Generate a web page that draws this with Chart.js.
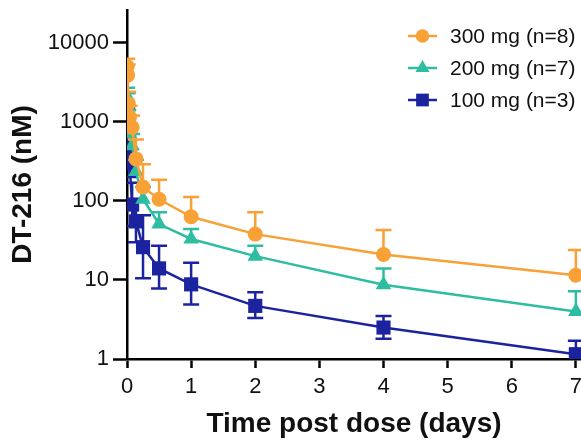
<!DOCTYPE html>
<html><head><meta charset="utf-8">
<script src="https://cdn.jsdelivr.net/npm/chart.js@4.4.1/dist/chart.umd.min.js"></script>
<style>
html,body{margin:0;padding:0;background:#fff;overflow:hidden;}
#wrap{width:581px;height:444px;overflow:hidden;position:relative;}
canvas{display:block;}
</style></head>
<body><div id="wrap"><canvas id="c" width="591" height="444"></canvas></div>
<script>
const times = [0.003, 0.01, 0.02, 0.04, 0.08, 0.14, 0.25, 0.5, 1, 2, 4, 7];
const mean300 = [5000, 3900, 1700, 1150, 850, 340, 150, 105, 63, 38, 21, 11.5];
const up300   = [6300, 5300, 2400, 1600, 1200, 600, 290, 185, 112, 72, 43, 24];
const mean200 = [2100, 1700, 1000, 700, 500, 235, 105, 51, 33, 20, 8.7, 4.0];
const up200   = [2700, 2300, 1400, 950, 700, 330, 150, 72, 44, 27, 14, 7.2];
const mean100 = [1100, 800, 450, 300, 90, 55, 26, 14, 8.8, 4.7, 2.5, 1.15];
const up100   = [1500, 1100, 650, 450, 170, 100, 66, 27, 16.5, 7, 3.5, 1.7];
const lo100   = [800, 550, 300, 200, 48, 30, 10.5, 7.8, 4.9, 3.3, 1.8, 0.8];
const seriesLabels = ['300 mg (n=8)', '200 mg (n=7)', '100 mg (n=3)'];
const xTicks = [0, 1, 2, 3, 4, 5, 6, 7];
const yTicks = [1, 10, 100, 1000, 10000];

const COLORS = ['#F7A136', '#2EBDA0', '#1C239E'];
const FONT = 'Liberation Sans, Arial, sans-serif';

function pts(ys){ return ys.map((y,i)=>({x:times[i], y:y})); }

const datasets = [
  {label: seriesLabels[0], data: pts(mean300), errUp: up300, errLo: null,
   borderColor: COLORS[0], backgroundColor: COLORS[0], pointStyle: 'circle', pointRadius: 7.5},
  {label: seriesLabels[1], data: pts(mean200), errUp: up200, errLo: null,
   borderColor: COLORS[1], backgroundColor: COLORS[1], pointStyle: 'triangle', pointRadius: 9},
  {label: seriesLabels[2], data: pts(mean100), errUp: up100, errLo: lo100,
   borderColor: COLORS[2], backgroundColor: COLORS[2], pointStyle: 'rect', pointRadius: 10}
].map(d => Object.assign(d, {borderWidth: 2.5, pointBorderWidth: 0, pointHoverRadius: d.pointRadius, tension: 0}));

const errorBars = {
  id: 'errorBars',
  beforeDatasetDraw(chart, args) {
    const ds = chart.data.datasets[args.index];
    const xs = chart.scales.x, ys = chart.scales.y, ca = chart.chartArea;
    const ctx = chart.ctx;
    ctx.save();
    ctx.beginPath();
    ctx.rect(ca.left, ca.top - 20, ca.right - ca.left + 20, ca.bottom - ca.top + 20);
    ctx.clip();
    ctx.strokeStyle = ds.borderColor;
    ctx.lineWidth = 2.5;
    const cap = 8;
    ds.data.forEach((p, i) => {
      const x = xs.getPixelForValue(p.x);
      const y = ys.getPixelForValue(p.y);
      const ends = [];
      if (ds.errUp) ends.push(ys.getPixelForValue(ds.errUp[i]));
      if (ds.errLo) ends.push(ys.getPixelForValue(ds.errLo[i]));
      ends.forEach(ye => {
        ctx.beginPath();
        ctx.moveTo(x, y); ctx.lineTo(x, ye);
        ctx.moveTo(x - cap, ye); ctx.lineTo(x + cap, ye);
        ctx.stroke();
      });
    });
    ctx.restore();
  }
};

const legendBox = {
  id: 'legendBox',
  afterDraw(chart) {
    const ctx = chart.ctx;
    const rows = [36, 68, 100];
    chart.data.datasets.forEach((ds, i) => {
      const y = rows[i];
      ctx.save();
      ctx.strokeStyle = ds.borderColor;
      ctx.fillStyle = ds.backgroundColor;
      ctx.lineWidth = 2.5;
      ctx.beginPath(); ctx.moveTo(408, y); ctx.lineTo(437, y); ctx.stroke();
      Chart.helpers.drawPoint(ctx, {pointStyle: ds.pointStyle, radius: ds.pointRadius * 0.9, borderWidth: 0, rotation: 0}, 422.5, y);
      ctx.fillStyle = '#111';
      ctx.font = '21px ' + FONT;
      ctx.textBaseline = 'middle';
      ctx.textAlign = 'left';
      ctx.fillText(ds.label, 450, y + 1);
      ctx.restore();
    });
  }
};

new Chart(document.getElementById('c'), {
  type: 'line',
  data: {datasets},
  plugins: [errorBars, legendBox],
  options: {
    responsive: false,
    animation: false,
    devicePixelRatio: 1,
    layout: {padding: {top: 8, right: 0, left: 0, bottom: 0}},
    plugins: {legend: {display: false}, tooltip: {enabled: false}},
    scales: {
      x: {
        type: 'linear', min: 0, max: 7.08,
        afterBuildTicks: s => { s.ticks = xTicks.map(v => ({value: v})); },
        afterFit: s => { s.height = 85; },
        grid: {drawOnChartArea: false, drawTicks: true, tickLength: 9, tickWidth: 2.5, tickColor: '#000'},
        border: {display: true, color: '#000', width: 2.5},
        ticks: {color: '#111', font: {family: FONT, size: 22}, padding: 6, maxRotation: 0, autoSkip: false,
                callback: v => String(v)},
        title: {display: true, text: 'Time post dose (days)', color: '#111',
                font: {family: FONT, size: 28, weight: 'bold'}, padding: {top: 0, bottom: 3}}
      },
      y: {
        type: 'logarithmic', min: 1, max: 26000,
        afterBuildTicks: s => { s.ticks = yTicks.map(v => ({value: v})); },
        afterFit: s => { s.width = 127; s.paddingTop = 0; s.paddingBottom = 0; },
        grid: {drawOnChartArea: false, drawTicks: true, tickLength: 14, tickWidth: 2.5, tickColor: '#000'},
        border: {display: true, color: '#000', width: 2.5},
        ticks: {color: '#111', font: {family: FONT, size: 22}, padding: 4, autoSkip: false,
                callback: v => String(v)},
        title: {display: true, text: 'DT-216 (nM)', color: '#111',
                font: {family: FONT, size: 28, weight: 'bold'}, padding: {top: 6, bottom: 0}}
      }
    }
  }
});
</script></body></html>
